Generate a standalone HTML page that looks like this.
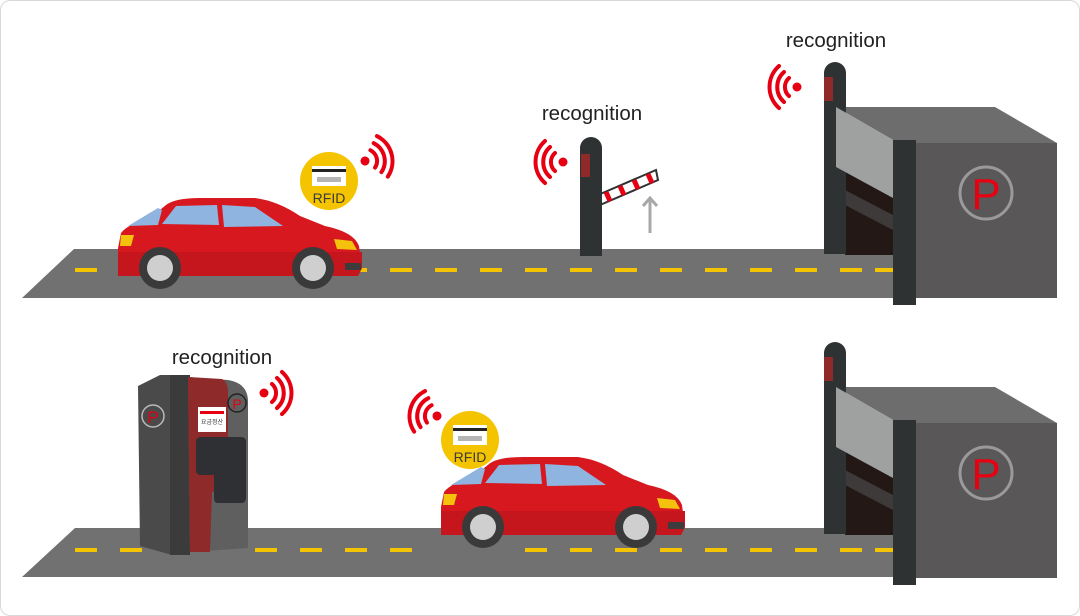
<!DOCTYPE html>
<html><head><meta charset="utf-8"><style>
html,body{margin:0;padding:0;background:#fff}
.w{width:1078px;height:614px;border:1px solid #d8d8d8;border-radius:10px;position:relative;overflow:hidden;background:#fff}
svg text{font-family:"Liberation Sans","Noto Sans CJK KR",sans-serif}
</style></head><body><div class="w">
<svg width="1080" height="616" viewBox="0 0 1080 616" style="position:absolute;left:-1px;top:-1px">
<defs>
<g id="waveR"><circle cx="0" cy="0" r="4.5" fill="#e60012"/>
<path d="M8,-9 A12,12 0 0 1 8,9 M13,-15 A20,20 0 0 1 13,15 M18,-21 A28,28 0 0 1 18,21" fill="none" stroke="#e60012" stroke-width="4" stroke-linecap="round"/></g>
<g id="bld">
<polygon points="836,107 995,107 1057,143 915,143 893,140" fill="#6e6d6d"/>
<rect x="915" y="143" width="142" height="155" fill="#595757"/>
<rect x="845" y="165" width="50" height="90" fill="#231815"/>
<polygon points="845,190 893,215 893,230 845,205" fill="#3e3a39"/>
<path d="M824,254 V73 A11,11 0 0 1 846,73 V254 Z" fill="#2f3233"/>
<rect x="824" y="77" width="9" height="24" fill="#8e2a2a"/>
<polygon points="836,107 893,140 893,198 836,167" fill="#9fa0a0"/>
<rect x="893" y="140" width="23" height="165" fill="#2f3233"/>
<circle cx="986" cy="193" r="26" fill="none" stroke="#9a9a9a" stroke-width="3"/>
<text x="986" y="209" text-anchor="middle" font-size="44" fill="#e60012">P</text>
</g>
<g id="car">
<path d="M118,248 L121,233 Q128,224 150,218 L166,205 Q175,198 200,198 L255,198 Q278,201 300,216 L325,226 Q354,232 359,246 L362,268 L358,276 L118,276 Z" fill="#d7191f"/>
<path d="M118,252 L362,252 L362,268 L358,276 L118,276 Z" fill="#c4161c"/>
<polygon points="128,226 158,208 162,210 158,225" fill="#8fb4e0"/>
<polygon points="162,224 176,206 217,205 219,225" fill="#8fb4e0"/>
<polygon points="222,205 255,207 283,226 224,227" fill="#8fb4e0"/>
<polygon points="334,239 352,241 357,250 337,249" fill="#f4c10d"/>
<polygon points="121,235 134,235 131,246 120,246" fill="#f4c10d"/>
<rect x="345" y="263" width="16" height="7" fill="#3c3c3c"/>
<circle cx="160" cy="268" r="21" fill="#3a3a3a"/><circle cx="160" cy="268" r="13" fill="#cfcfcf"/>
<circle cx="313" cy="268" r="21" fill="#3a3a3a"/><circle cx="313" cy="268" r="13" fill="#cfcfcf"/>
</g>
<g id="rfid">
<circle cx="0" cy="0" r="29" fill="#f5c400"/>
<rect x="-17" y="-15" width="34" height="20" fill="#fff"/>
<rect x="-17" y="-12" width="34" height="3" fill="#222"/>
<rect x="-12" y="-4" width="24" height="5" fill="#b5b5b5"/>
<text x="0" y="22" text-anchor="middle" font-size="14" fill="#3a3a3a">RFID</text>
</g>
</defs>
<polygon points="22,298 74,249 900,249 900,298" fill="#727171"/>
<polygon points="22,577 75,528 900,528 900,577" fill="#727171"/>
<g stroke="#f5c400" stroke-width="4">
<path d="M75,270H97M120,270H142M165,270H187M210,270H232M255,270H277M345,270H367M390,270H412M435,270H457M480,270H502M525,270H547M570,270H592M615,270H637M660,270H682M705,270H727M750,270H772M795,270H817M840,270H862M875,270H893"/>
<path d="M75,550H97M120,550H142M165,550H187M255,550H277M300,550H322M345,550H367M390,550H412M525,550H547M570,550H592M615,550H637M660,550H682M705,550H727M750,550H772M795,550H817M840,550H862M875,550H893"/>
</g>
<use href="#bld"/>
<use href="#bld" transform="translate(0,280)"/>
<use href="#car"/>
<use href="#car" transform="translate(323,259)"/>
<use href="#rfid" transform="translate(329,181)"/>
<use href="#rfid" transform="translate(470,440)"/>
<use href="#waveR" transform="translate(365,161) rotate(-15)"/>
<use href="#waveR" transform="translate(264,393)"/>
<use href="#waveR" transform="translate(563,162) scale(-1,1)"/>
<use href="#waveR" transform="translate(797,87) scale(-1,1)"/>
<use href="#waveR" transform="translate(437,416) rotate(15) scale(-1,1)"/>
<polygon points="591,198 656,170 658,180 593,208" fill="#fff" stroke="#2f3233" stroke-width="2"/>
<g stroke="#e60012" stroke-width="5"><path d="M606,192 L610,201 M620,186 L624,195 M634,180 L638,189 M648,174 L652,183"/></g>
<path d="M580,256 V148 A11,11 0 0 1 602,148 V256 Z" fill="#2f3233"/>
<rect x="581" y="154" width="9" height="23" fill="#8e2a2a"/>
<path d="M650,233 V198 M643,206 L650,198 L657,206" fill="none" stroke="#a8a8a8" stroke-width="3"/>
<polygon points="138,386 160,375 172,375 172,555 140,546" fill="#4a4a4a"/>
<rect x="170" y="375" width="20" height="180" fill="#3b3b3b"/>
<path d="M188,377 L228,380 Q247,383 248,400 L248,548 L190,552 Z" fill="#5f5f5f"/>
<path d="M188,377 L222,379 Q228,382 228,392 L228,470 Q226,488 212,492 L210,552 L190,552 Z" fill="#8e2a2a"/>
<path d="M196,442 Q196,437 201,437 L241,437 Q246,437 246,442 L246,498 Q246,503 241,503 L218,503 Q214,503 214,498 L214,475 L201,475 Q196,475 196,470 Z" fill="#2e3033"/>
<rect x="198" y="407" width="28" height="25" fill="#fff"/>
<rect x="200" y="411" width="24" height="3" fill="#e60012"/>
<text x="212" y="424" text-anchor="middle" font-size="6" fill="#333">요금정산</text>
<circle cx="153" cy="416" r="11" fill="none" stroke="#bbb" stroke-width="1.5"/>
<text x="153" y="423" text-anchor="middle" font-size="17" fill="#e60012">P</text>
<circle cx="237" cy="403" r="9" fill="none" stroke="#222" stroke-width="1.5"/>
<text x="237" y="409" text-anchor="middle" font-size="14" fill="#e60012">P</text>
<text x="592" y="120" text-anchor="middle" font-size="20.5" fill="#222">recognition</text>
<text x="836" y="47" text-anchor="middle" font-size="20.5" fill="#222">recognition</text>
<text x="222" y="364" text-anchor="middle" font-size="20.5" fill="#222">recognition</text>
</svg></div></body></html>
